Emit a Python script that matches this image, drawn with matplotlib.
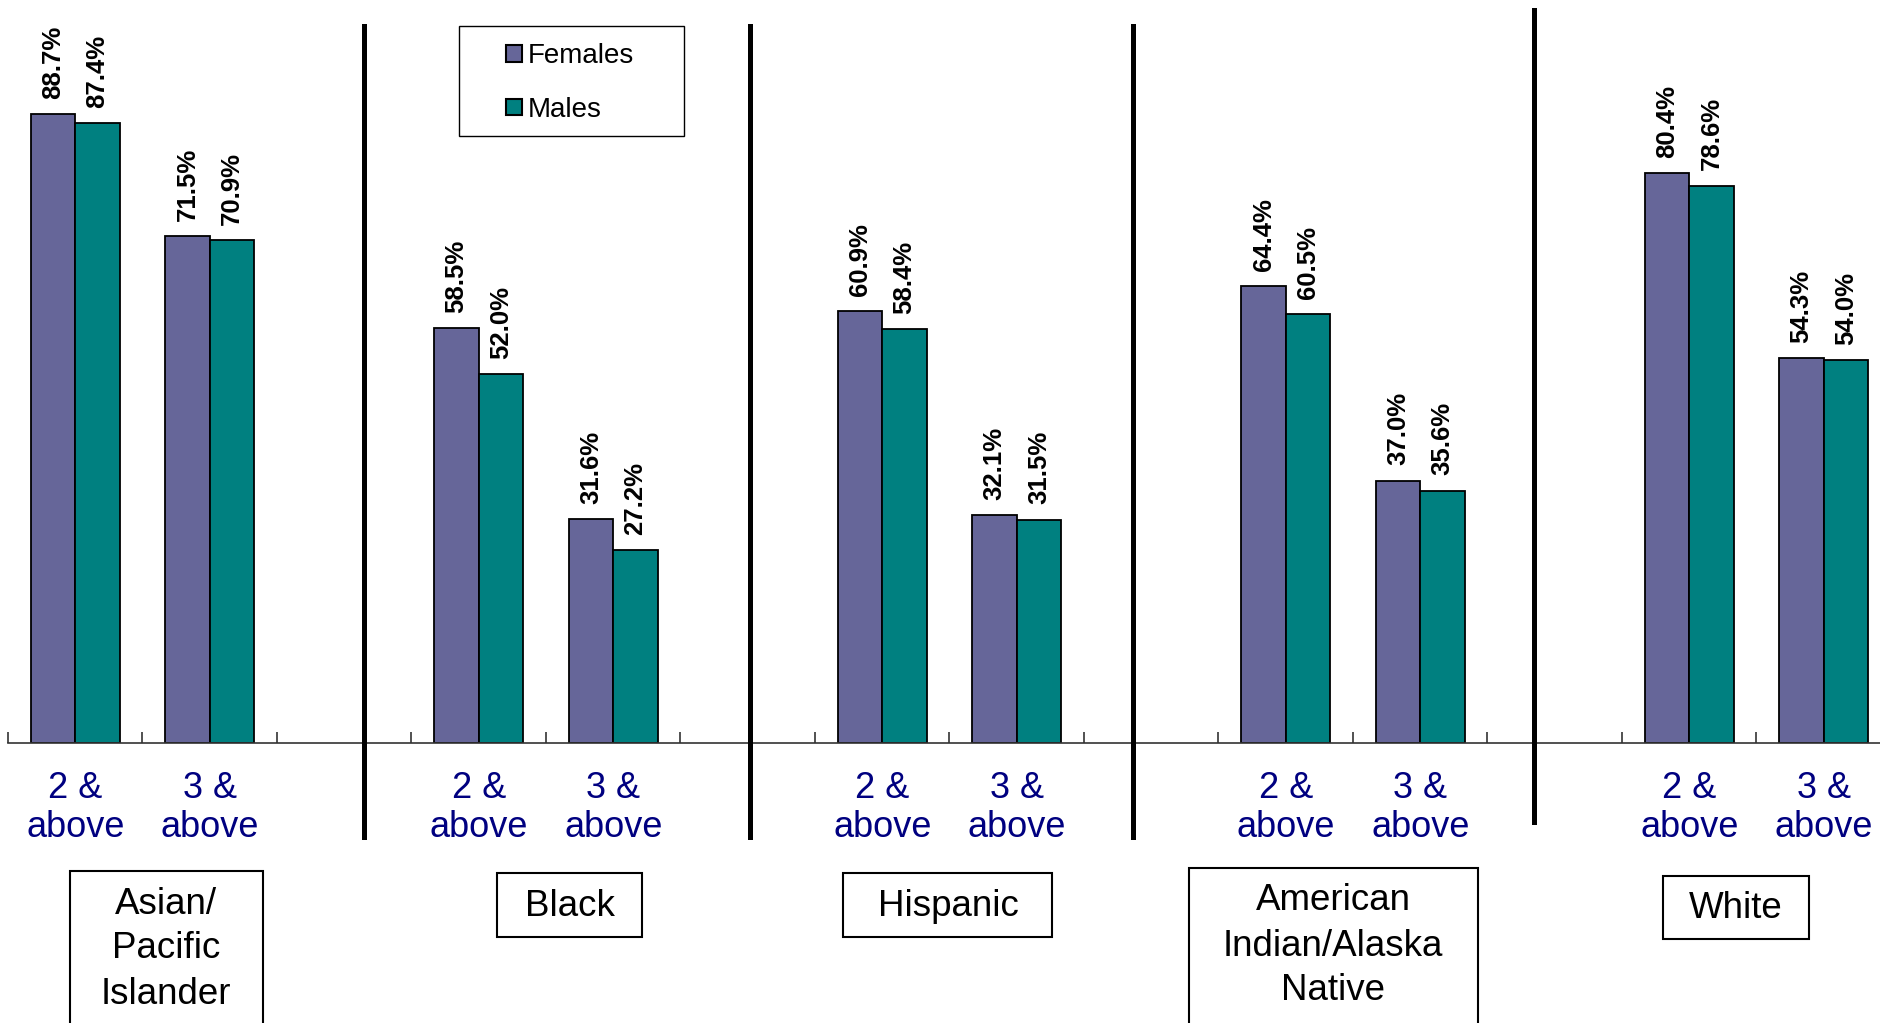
import matplotlib
matplotlib.use("Agg")
import matplotlib.pyplot as plt
from matplotlib.patches import Rectangle, Patch
from matplotlib.lines import Line2D
import numpy as np

plt.rcParams['font.family'] = ['Liberation Sans', 'DejaVu Sans']

# ---- data ----
groups = ["Asian/\nPacific\nIslander", "Black", "Hispanic",
          "American\nIndian/Alaska\nNative", "White"]
levels = ["2 &\nabove", "3 &\nabove"]
females = [88.7, 71.5, 58.5, 31.6, 60.9, 32.1, 64.4, 37.0, 80.4, 54.3]
males = [87.4, 70.9, 52.0, 27.2, 58.4, 31.5, 60.5, 35.6, 78.6, 54.0]
series_names = ["Females", "Males"]
colors = ["#666699", "#008080"]

W, H = 1881, 1023
fig = plt.figure(figsize=(W / 100, H / 100), dpi=100)

def fx(x):
    return x / W

def fy(y):
    return 1 - y / H

slot = 134.5
ax = fig.add_axes([fx(8), fy(743), 14 * slot / W, 709 / H])

# slot positions: each group uses 2 slots + 1 blank slot
pos = []
labels = []
for g in range(len(groups)):
    for l in range(2):
        pos.append(g * 3 + l)
        labels.append(levels[l])
pos = np.array(pos, dtype=float)

bw = 0.33
bf = ax.bar(pos - bw / 2, females, width=bw, color=colors[0], edgecolor="black",
            linewidth=1.3, label=series_names[0])
bm = ax.bar(pos + bw / 2, males, width=bw, color=colors[1], edgecolor="black",
            linewidth=1.3, label=series_names[1])

for bars, vals in ((bf, females), (bm, males)):
    for b, v in zip(bars, vals):
        ax.annotate(f"{v:.1f}%", (b.get_x() + b.get_width() / 2, b.get_height()),
                    xytext=(0, 11), textcoords="offset points", rotation=90,
                    ha="center", va="bottom", fontsize=18.5, fontweight="bold")

ax.set_xlim(-0.5, 13.5)
ax.set_ylim(0, 100)
for s in ("left", "right", "top"):
    ax.spines[s].set_visible(False)
ax.spines["bottom"].set_color("#333333")
ax.spines["bottom"].set_linewidth(1.2)
ax.set_yticks([])
ax.set_xticks(pos)
ax.set_xticklabels(labels, fontsize=26, color="#000080", linespacing=1.15)
ax.tick_params(axis="x", which="major", length=0, pad=20)
ax.set_xticks(np.arange(-0.5, 14.0, 1.0), minor=True)
ax.tick_params(axis="x", which="minor", direction="in", length=8, width=1.2, color="#333333")

# separators
seps = [(364, 26, 837), (750, 26, 837), (1133, 26, 837), (1534, 10, 822)]
for x, y0, y1 in seps:
    fig.add_artist(Line2D([fx(x), fx(x)], [fy(y0), fy(y1)], color="black", linewidth=3.6,
                          transform=fig.transFigure))

# group label boxes
boxes = [
    (70, 871, 263, 1040, 166, [905, 949, 994]),
    (497, 873, 642, 937, 570, [906]),
    (843, 873, 1052, 937, 948, [906]),
    (1189, 868, 1478, 1040, 1333, [901, 946, 991]),
    (1663, 876, 1809, 939, 1736, [908]),
]
for (x0, y0, x1, y1, cx, ys), name in zip(boxes, groups):
    fig.add_artist(Rectangle((fx(x0), fy(y1)), fx(x1) - fx(x0), fy(y0) - fy(y1),
                             fill=False, edgecolor="black", linewidth=1.5,
                             transform=fig.transFigure))
    for yy, line in zip(ys, name.split("\n")):
        fig.text(fx(cx), fy(yy), line, ha="center", va="center", fontsize=26.5, color="black")

# legend
fig.add_artist(Rectangle((fx(459), fy(136)), fx(684) - fx(459), fy(26) - fy(136),
                         fill=False, edgecolor="black", linewidth=1.0,
                         transform=fig.transFigure))
handles = [Patch(facecolor=c, edgecolor="black", linewidth=1.5) for c in colors]
fig.legend(handles, series_names, loc="center", bbox_to_anchor=(fx(570), fy(83)),
           frameon=False, fontsize=20, handlelength=0.55, handleheight=0.55,
           handletextpad=0.2, labelspacing=1.0, borderpad=0, borderaxespad=0)

fig.savefig("out.png", dpi=100)
